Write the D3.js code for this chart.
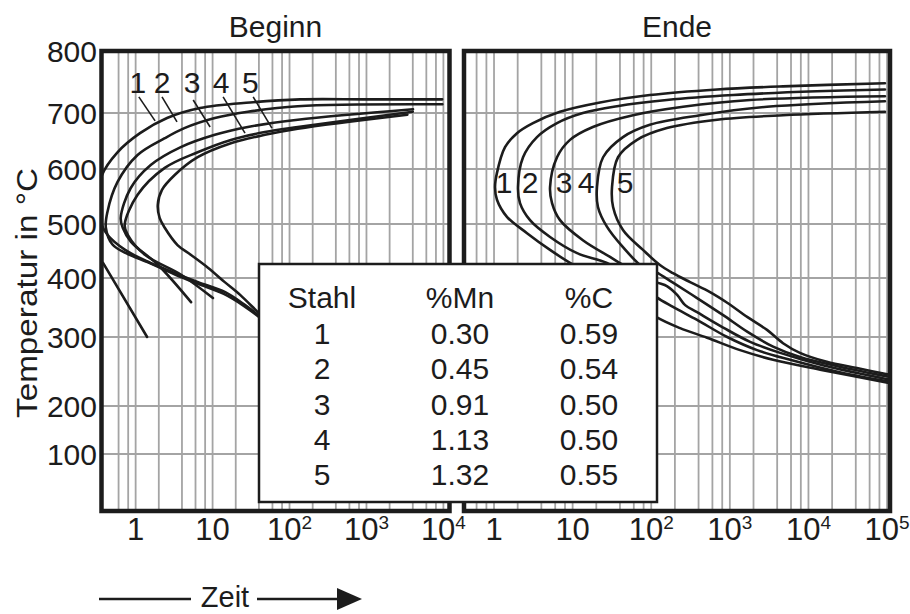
<!DOCTYPE html>
<html><head><meta charset="utf-8">
<script src="https://cdn.jsdelivr.net/npm/d3@7"></script>
<style>
body{margin:0;background:#fff}
text{font-family:"Liberation Sans",Arial,Helvetica,sans-serif;fill:#1c1c1c}
</style>
</head><body>
<svg id="c" width="910" height="614"></svg>
<script>
// ---------- data ----------
const panelTitles = ["Beginn", "Ende"];
const tempTicks = [100, 200, 300, 400, 500, 600, 700, 800];
const tempGrid = [100, 200, 300, 400, 500, 600, 700];
const timeTicksBeginn = [1, 10, 100, 1000, 10000];
const timeTicksEnde = [1, 10, 100, 1000, 10000, 100000];
const gridMultiples = [2, 4, 6, 8];
const curveNames = ["1", "2", "3", "4", "5"];

// Beginn curves: [time, temperature °C]
const beginn1 = [[9640,722],[1020,722],[137,722],[30.7,717],[6.88,708],[2.56,691],[1.14,664],[0.573,629],[0.366,589],[0.33,545],[0.35,505],[0.43,480],[0.73,452],[1.45,430],[3.25,409],[6.5,393],[14.6,376],[26.5,354],[39,337],[60,315]];
const beginn2 = [[9700,714],[128,711],[28.7,702],[10.7,691],[4.3,673],[2.39,655],[1.06,625],[0.58,576],[0.43,522],[0.41,493],[0.5,462],[0.75,446],[1.5,428],[3.3,406],[6.5,390],[14,373],[26,352],[39,335],[60,313]];
const beginn3 = [[4030,706],[128,688],[28.7,675],[10.7,661],[3.86,639],[1.57,607],[0.86,565],[0.64,511],[0.68,493],[0.87,467],[1.96,424],[5.25,359]];
const beginn4 = [[4000,702],[128,675],[47.8,666],[17.3,652],[6.4,630],[2.39,602],[1.06,553],[0.72,498],[0.79,480],[1.32,443],[3.9,406],[10.1,366]];
const beginn5 = [[3400,697],[128,672],[48,661],[17.3,646],[6.4,621],[3.22,589],[2.2,562],[1.94,535],[2.05,511],[2.39,493],[3.5,461],[5.2,443],[8.7,419],[14.4,393],[23,371],[38.7,342],[60,318]];
const beginnLine = [[0.377,428],[1.41,300]];

// Ende curves: [time, temperature °C]
const ende1 = [[94000,748],[4750,743],[688,738],[96,729],[22.3,717],[6.9,702],[3.13,682],[1.96,664],[1.38,639],[1.09,593],[1.03,567],[1.09,544],[1.46,513],[2.63,483],[5.16,452],[9.26,428],[30,388],[115,334],[233,315],[513,299],[1350,281],[3550,267],[15200,252],[110000,233]];
const ende2 = [[94000,738],[12700,735],[1100,729],[158,721],[36.7,711],[13.5,700],[6.33,682],[3.52,657],[2.34,621],[2.02,567],[2.14,538],[2.87,507],[5.16,476],[11.4,446],[27.3,428],[60,400],[115,368],[189,351],[383,329],[925,300],[2220,281],[5840,267],[25000,249],[110000,235]];
const ende3 = [[94000,727],[1810,721],[254,710],[58.7,696],[18.1,675],[9.26,652],[6.33,621],[5.16,567],[5.47,538],[6.91,507],[13.5,470],[29.9,439],[49.2,420],[80,405],[115,393],[160,386],[215,371],[270,354],[383,342],[823,316],[1810,293],[4370,277],[15200,259],[110000,238]];
const ende4 = [[94000,719],[2970,710],[418,696],[96,679],[43.7,657],[24.4,621],[20.4,567],[21,531],[27.3,495],[43.7,457],[78.6,420],[115,411],[189,392],[383,366],[823,337],[1660,309],[3550,286],[7790,271],[25000,257],[110000,242]];
const ende5 = [[94000,702],[4750,696],[688,688],[158,673],[66,652],[37.8,621],[31.7,567],[32.7,531],[43.7,489],[78.6,452],[129,424],[189,409],[312,393],[560,376],[925,358],[1660,334],[2970,312],[4750,291],[7790,277],[17100,264],[41300,255],[110000,245]];

// curve labels (time, temperature) and leader lines
const beginnLabelAt = [[1.07,733],[2.2,733],[5.4,733],[12.9,733],[31,733]];
const beginnLeaders = [[[1.1,726],[1.79,686]],[[2.2,726],[3.45,684]],[[5.6,721],[9.29,675]],[[13.7,726],[26.4,664]],[[33.7,726],[59,673]]];
const endeLabelAt = [[1.34,556],[2.87,556],[7.8,556],[14.8,556],[46.4,556]];

// table
const tableHeader = ["Stahl", "%Mn", "%C"];
const stahl = ["1", "2", "3", "4", "5"];
const mnPct = [0.30, 0.45, 0.91, 1.13, 1.32];
const cPct = [0.59, 0.54, 0.50, 0.50, 0.55];

const yTitle = "Temperatur in °C";
const xTitle = "Zeit";

// ---------- layout ----------
const svg = d3.select("#c");
const ink = "#1c1c1c";
const FS = 30;
const y = d3.scaleLinear().domain([0,100,200,300,400,500,600,700,800]).range([511,454,406,337,278,224,169,113,51]);
const xL = d3.scaleLog().domain([0.36, 12000]).range([101.5, 449.5]);
const xR = d3.scaleLog().domain([0.415, 109000]).range([464, 890]);

const panels = [
  {x: xL, ticks: timeTicksBeginn, title: panelTitles[0], curves: [beginn1,beginn2,beginn3,beginn4,beginn5,beginnLine], id: "pL"},
  {x: xR, ticks: timeTicksEnde, title: panelTitles[1], curves: [ende1,ende2,ende3,ende4,ende5], id: "pR"}
];
const yTop = y(800), yBot = y(0);

const defs = svg.append("defs");
panels.forEach(p => {
  const [x0, x1] = p.x.range();
  defs.append("clipPath").attr("id", p.id).append("rect")
    .attr("x", x0).attr("y", yTop).attr("width", x1 - x0).attr("height", yBot - yTop);
});

panels.forEach(p => {
  const [x0, x1] = p.x.range();
  const [d0, d1] = p.x.domain();
  const g = svg.append("g");
  // grid
  const vals = [];
  for (let e = -1; e <= 5; e++) {
    const dec = Math.pow(10, e);
    [1, ...gridMultiples].forEach(m => {
      const v = m * dec;
      if (v > d0 && v < d1) {
        const px = p.x(v);
        if (px - x0 > 5 && x1 - px > 1.5) vals.push(v);
      }
    });
  }
  g.selectAll(".vg").data(vals).join("line")
    .attr("x1", d => p.x(d)).attr("x2", d => p.x(d))
    .attr("y1", yTop).attr("y2", yBot)
    .attr("stroke", "#a4a4a4").attr("stroke-width", 1.8);
  g.selectAll(".hg").data(tempGrid).join("line")
    .attr("x1", x0).attr("x2", x1)
    .attr("y1", d => y(d)).attr("y2", d => y(d))
    .attr("stroke", "#a4a4a4").attr("stroke-width", 1.8);
  // curves
  const line = d3.line().x(d => p.x(d[0])).y(d => y(d[1])).curve(d3.curveCatmullRom.alpha(0.5));
  g.append("g").attr("clip-path", `url(#${p.id})`)
    .selectAll("path").data(p.curves).join("path")
    .attr("d", line).attr("fill", "none").attr("stroke", ink).attr("stroke-width", 2.6)
    .attr("stroke-linecap", "round");
  // frame
  g.append("rect").attr("x", x0).attr("y", yTop).attr("width", x1 - x0).attr("height", yBot - yTop)
    .attr("fill", "none").attr("stroke", ink).attr("stroke-width", 4.5);
  // title
  g.append("text").attr("x", (x0 + x1) / 2).attr("y", 37).attr("text-anchor", "middle")
    .attr("font-size", FS).text(p.title);
  // x tick labels
  p.ticks.forEach(t => {
    const e = Math.round(Math.log10(t));
    const tx = g.append("text").attr("x", p.x(t)).attr("y", 540).attr("text-anchor", "middle").attr("font-size", 31);
    if (e < 2) tx.text(String(t));
    else {
      tx.append("tspan").text("10");
      tx.append("tspan").attr("font-size", 19).attr("dy", -11).text(String(e));
    }
  });
});

// y tick labels
svg.selectAll(".yl").data(tempTicks).join("text")
  .attr("x", 97).attr("y", d => y(d) + 10.5).attr("text-anchor", "end").attr("font-size", FS)
  .text(d => d);

// y title
svg.append("text").attr("transform", "translate(37,293) rotate(-90)").attr("text-anchor", "middle")
  .attr("font-size", FS).attr("textLength", 250).attr("lengthAdjust", "spacingAndGlyphs").text(yTitle);

// curve labels Beginn
svg.selectAll(".bl").data(beginnLabelAt).join("text")
  .attr("x", d => xL(d[0])).attr("y", d => y(d[1])).attr("text-anchor", "middle").attr("font-size", FS)
  .text((d, i) => curveNames[i]);
svg.selectAll(".bll").data(beginnLeaders).join("line")
  .attr("x1", d => xL(d[0][0])).attr("y1", d => y(d[0][1]))
  .attr("x2", d => xL(d[1][0])).attr("y2", d => y(d[1][1]))
  .attr("stroke", ink).attr("stroke-width", 1.6);
// curve labels Ende
svg.selectAll(".el").data(endeLabelAt).join("text")
  .attr("x", d => xR(d[0])).attr("y", d => y(d[1])).attr("text-anchor", "middle").attr("font-size", FS)
  .text((d, i) => curveNames[i]);

// table box
const tb = svg.append("g");
tb.append("rect").attr("x", 259).attr("y", 264).attr("width", 398).attr("height", 238)
  .attr("fill", "#fff").attr("stroke", ink).attr("stroke-width", 2.5);
const colX = [322, 460, 589];
tableHeader.forEach((h, i) => tb.append("text").attr("x", colX[i]).attr("y", 308)
  .attr("text-anchor", "middle").attr("font-size", FS).text(h));
const rows = stahl.map((s, i) => [s, mnPct[i].toFixed(2), cPct[i].toFixed(2)]);
rows.forEach((r, ri) => r.forEach((v, ci) => tb.append("text").attr("x", colX[ci]).attr("y", 344 + ri * 35.3)
  .attr("text-anchor", "middle").attr("font-size", FS).text(v)));

// Zeit arrow
const za = svg.append("g");
za.append("line").attr("x1", 99).attr("x2", 191).attr("y1", 599).attr("y2", 599).attr("stroke", ink).attr("stroke-width", 2.5);
za.append("text").attr("x", 225).attr("y", 607).attr("text-anchor", "middle").attr("font-size", 29).text(xTitle);
za.append("line").attr("x1", 257).attr("x2", 342).attr("y1", 599).attr("y2", 599).attr("stroke", ink).attr("stroke-width", 2.5);
za.append("path").attr("d", "M337,588 L362,599 L337,610 Z").attr("fill", ink);
</script>
</body></html>
